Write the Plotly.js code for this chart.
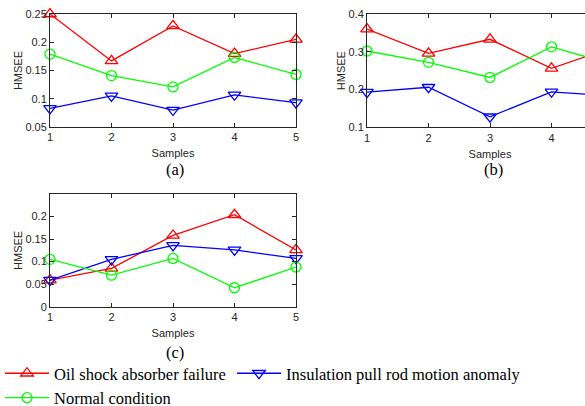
<!DOCTYPE html>
<html>
<head>
<meta charset="utf-8">
<script src="https://cdn.plot.ly/plotly-3.0.1.min.js"></script>
<style>
html,body{margin:0;padding:0;background:#fff;overflow:hidden;width:585px;height:406px;}
#chart{width:620px;height:406px;}
</style>
</head>
<body>
<div id="chart"></div>
<script>
// ---- data ----
var samples = [1, 2, 3, 4, 5];
var seriesNames = ['Oil shock absorber failure', 'Insulation pull rod motion anomaly', 'Normal condition'];
// panel (a)
var aOil  = [0.250, 0.167, 0.229, 0.180, 0.205];
var aIns  = [0.083, 0.105, 0.080, 0.107, 0.093];
var aNorm = [0.179, 0.141, 0.121, 0.173, 0.143];
// panel (b)
var bOil  = [0.360, 0.296, 0.333, 0.256, 0.312];
var bIns  = [0.193, 0.206, 0.128, 0.194, 0.183];
var bNorm = [0.302, 0.272, 0.232, 0.313, 0.266];
// panel (c)
var cOil  = [0.059, 0.085, 0.158, 0.204, 0.126];
var cIns  = [0.059, 0.105, 0.136, 0.126, 0.107];
var cNorm = [0.105, 0.070, 0.107, 0.042, 0.088];
// tick labels
var xTicks = [1, 2, 3, 4, 5];
var xText = ['1', '2', '3', '4', '5'];
var bXText = ['1', '2', '3', '4', ''];   // panel (b) is cut by the figure edge before x = 5
var aYTicks = [0.05, 0.1, 0.15, 0.2, 0.25];
var aYText = ['0.05', '0.1', '0.15', '0.2', '0.25'];
var bYTicks = [0.1, 0.2, 0.3, 0.4];
var bYText = ['0.1', '0.2', '0.3', '0.4'];
var cYTicks = [0, 0.05, 0.1, 0.15, 0.2];
var cYText = ['0', '0.05', '0.1', '0.15', '0.2'];
var panelLabels = ['(a)', '(b)', '(c)'];

// ---- styles ----
var W = 620, H = 406;
var styles = [
  {color: '#FF0000', symbol: 'triangle-up-open', size: 11, legend: 'legend'},
  {color: '#0000FF', symbol: 'triangle-down-open', size: 11, legend: 'legend2'},
  {color: '#00FF00', symbol: 'circle-open', size: 10, legend: 'legend'}
];
var panels = [
  {xa: 'x', ya: 'y', vals: [aOil, aIns, aNorm], legend: true},
  {xa: 'x2', ya: 'y2', vals: [bOil, bIns, bNorm], legend: false},
  {xa: 'x3', ya: 'y3', vals: [cOil, cIns, cNorm], legend: false}
];
var data = [];
panels.forEach(function (p) {
  p.vals.forEach(function (v, i) {
    data.push({
      x: samples, y: v, xaxis: p.xa, yaxis: p.ya,
      type: 'scatter', mode: 'lines+markers', name: seriesNames[i],
      showlegend: p.legend, legend: styles[i].legend, cliponaxis: false,
      line: {color: styles[i].color, width: 1.3},
      marker: {symbol: styles[i].symbol, size: styles[i].size, color: styles[i].color,
               line: {color: styles[i].color, width: 1.3}}
    });
  });
});

var axFont = {family: 'Arial, "Liberation Sans", sans-serif', size: 11, color: '#262626'};
function px2x(a, b) { return [a / W, b / W]; }
function px2y(top, bottom) { return [1 - bottom / H, 1 - top / H]; }
function xAxis(dom, anchor, tt) {
  return {domain: dom, anchor: anchor, range: [1, 5], tickvals: xTicks, ticktext: tt,
    ticks: 'inside', ticklen: 4, tickcolor: '#262626', showline: true, linecolor: '#262626', linewidth: 1,
    mirror: 'ticks', showgrid: false, zeroline: false, tickfont: axFont,
    title: {text: 'Samples', font: axFont, standoff: 7}};
}
function yAxis(dom, anchor, range, tv, tt) {
  return {domain: dom, anchor: anchor, range: range, tickvals: tv, ticktext: tt,
    ticks: 'inside', ticklen: 4, tickcolor: '#262626', showline: true, linecolor: '#262626', linewidth: 1,
    mirror: 'ticks', showgrid: false, zeroline: false, tickfont: axFont,
    title: {text: 'HMSEE', font: axFont, standoff: 0}};
}
var serif = {family: '"Liberation Serif", "Times New Roman", serif', size: 16.5, color: '#000'};
var legendBase = {orientation: 'v', xanchor: 'left', yanchor: 'top',
  font: serif, itemwidth: 44, bgcolor: 'rgba(0,0,0,0)', tracegroupgap: 0};
var layout = {
  width: W, height: H,
  margin: {l: 0, r: 0, t: 0, b: 0, autoexpand: false},
  paper_bgcolor: '#fff', plot_bgcolor: '#fff',
  showlegend: true,
  xaxis: xAxis(px2x(50, 296), 'y', xText),
  yaxis: yAxis(px2y(14, 127), 'x', [0.05, 0.25], aYTicks, aYText),
  xaxis2: xAxis(px2x(367, 613), 'y2', bXText),
  yaxis2: yAxis(px2y(14, 127.3), 'x2', [0.1, 0.4], bYTicks, bYText),
  xaxis3: xAxis(px2x(50, 296), 'y3', xText),
  yaxis3: yAxis(px2y(194, 306.7), 'x3', [0, 0.25], cYTicks, cYText),
  legend: Object.assign({}, legendBase, {x: 0, y: 1 - 356 / H}),
  legend2: Object.assign({}, legendBase, {x: 232 / W, y: 1 - 356 / H}),
  annotations: [
    {text: panelLabels[0], x: 175 / W, y: 1 - 169 / H, xref: 'paper', yref: 'paper', showarrow: false, font: serif, xanchor: 'center', yanchor: 'middle'},
    {text: panelLabels[1], x: 493 / W, y: 1 - 169 / H, xref: 'paper', yref: 'paper', showarrow: false, font: serif, xanchor: 'center', yanchor: 'middle'},
    {text: panelLabels[2], x: 175 / W, y: 1 - 352 / H, xref: 'paper', yref: 'paper', showarrow: false, font: serif, xanchor: 'center', yanchor: 'middle'}
  ]
};
Plotly.newPlot('chart', data, layout, {displayModeBar: false, staticPlot: true});
</script>
</body>
</html>
